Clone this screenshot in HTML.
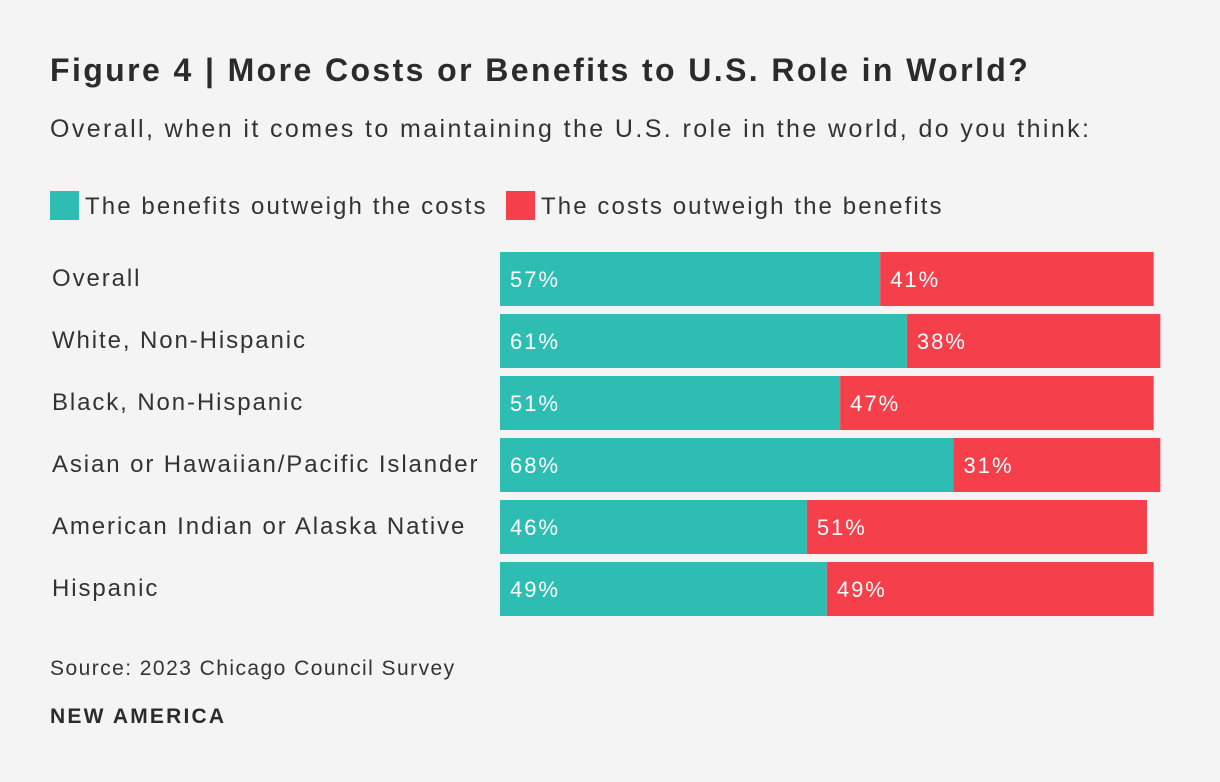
<!DOCTYPE html>
<html><head><meta charset="utf-8"><style>
body{margin:0;background:#f4f4f4;font-family:"Liberation Sans",sans-serif;color:#333;}
#wrap{position:relative;width:1220px;height:782px;overflow:hidden;}
.t{position:absolute;white-space:nowrap;}
</style></head><body>
<div id="wrap">
<div class="t" style="left:50px;top:52px;font-size:32px;font-weight:bold;color:#2b2b2b;letter-spacing:2.4px">Figure 4 | More Costs or Benefits to U.S. Role in World?</div>
<div class="t" style="left:50px;top:115px;font-size:25px;color:#333;letter-spacing:2.4px">Overall, when it comes to maintaining the U.S. role in the world, do you think:</div>
<div class="t" style="left:50px;top:191px;font-size:24px;letter-spacing:2.1px"><span style="display:inline-block;width:29px;height:29px;background:#2ebdb3;vertical-align:-6px;margin-right:6px"></span>The benefits outweigh the costs</div>
<div class="t" style="left:506px;top:191px;font-size:24px;letter-spacing:2.1px"><span style="display:inline-block;width:29px;height:29px;background:#f5404b;vertical-align:-6px;margin-right:6px"></span>The costs outweigh the benefits</div>
<svg id="chart" width="1220" height="782" style="position:absolute;left:0;top:0"></svg>
<div class="t" style="left:50px;top:657px;font-size:21px;letter-spacing:1.45px">Source: 2023 Chicago Council Survey</div>
<div class="t" style="left:50px;top:705px;font-size:21px;font-weight:bold;color:#2b2b2b;letter-spacing:2.2px">NEW AMERICA</div>
</div>
<script>
const categories=["Overall","White, Non-Hispanic","Black, Non-Hispanic","Asian or Hawaiian/Pacific Islander","American Indian or Alaska Native","Hispanic"];
const benefits=[57,61,51,68,46,49];
const costs=[41,38,47,31,51,49];
const svg=document.getElementById('chart');
const NS="http://www.w3.org/2000/svg";
const x0=500,pxPer=6.67,top0=252,pitch=62,bh=54;
const xs=v=>v*pxPer;
const ys=i=>top0+i*pitch;
function mk(tag,attrs){const e=document.createElementNS(NS,tag);for(const k in attrs)e.setAttribute(k,attrs[k]);svg.appendChild(e);return e;}
categories.forEach((c,i)=>{
 const y=ys(i);
 const lab=mk('text',{x:52,y:y+bh/2+7,'font-size':24,fill:'#333','font-family':'Liberation Sans, sans-serif','letter-spacing':1.9});
 lab.textContent=c;
 
 
 const wb=xs(benefits[i]);
 const b=mk('rect',{x:x0,y:y,width:wb,height:bh,fill:'#2ebdb3'});
 
 
 const r=mk('rect',{x:x0+wb,y:y,width:xs(costs[i]),height:bh,fill:'#f5404b'});
 
 
 const t1=mk('text',{x:x0+10,y:y+bh/2+8,'font-size':22,fill:'#fff','font-family':'Liberation Sans, sans-serif','letter-spacing':2});
 t1.textContent=benefits[i]+'%';
 
 
 const t2=mk('text',{x:x0+wb+10,y:y+bh/2+8,'font-size':22,fill:'#fff','font-family':'Liberation Sans, sans-serif','letter-spacing':2});
 t2.textContent=costs[i]+'%';
 
 
});
</script>
</body></html>
